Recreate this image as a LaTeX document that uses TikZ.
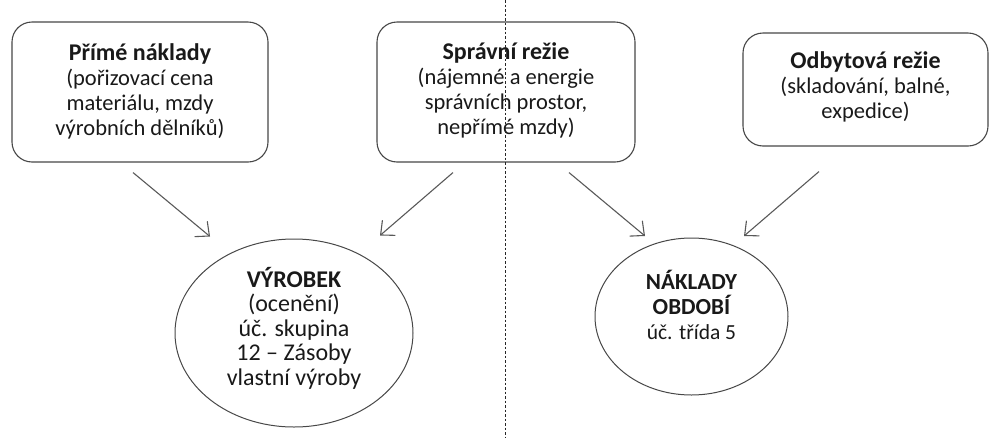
\documentclass[tikz,border=0pt]{standalone}
\usepackage{fontspec}
\setmainfont{Carlito}
\usetikzlibrary{shapes.geometric,arrows.meta}

\newcommand{\headline}[1]{{\fontsize{24}{26}\selectfont\bfseries #1}}

\tikzset{
  costbox/.style={draw=black!72, line width=1.1pt, rounded corners=20pt,
    inner sep=0pt},
  result/.style={draw=black!72, line width=1pt, ellipse, inner sep=0pt},
  label/.style={align=center, text=black!90, inner sep=0pt,
    font=\fontsize{22.5}{25}\selectfont},
  flow/.style={draw=black!65, line width=1.1pt,
    -{Straight Barb[length=11pt,width=20pt,line width=1.1pt]}},
  divider/.style={draw=black!85, line width=0.9pt, dash pattern=on 2.5pt off 2pt}
}

\begin{document}
\begin{tikzpicture}[x=1pt,y=-1pt]
  \useasboundingbox (0,0) rectangle (989,437);

  % cost groups
  \node[costbox, minimum width=256pt, minimum height=140pt] (b1) at (140,92) {};
  \node[costbox, minimum width=258pt, minimum height=140pt] (b2) at (506,92) {};
  \node[costbox, minimum width=245pt, minimum height=113pt] (b3) at (865.5,89.5) {};

  \node[label] (t1) at (140,91) {\headline{Přímé náklady}\\(pořizovací cena\\materiálu, mzdy\\výrobních dělníků)};
  \node[label] (t2) at (506,90) {\headline{Správní režie}\\(nájemné a energie\\správních prostor,\\nepřímé mzdy)};
  \node[label] (t3) at (865.5,87) {\headline{Odbytová režie}\\(skladování, balné,\\expedice)};

  % where the costs end up
  \node[result, minimum width=238pt, minimum height=188pt] (e1) at (294,333) {};
  \node[result, minimum width=193pt, minimum height=157pt] (e2) at (691.5,316.5) {};

  \node[label, font=\fontsize{24}{24.5}\selectfont] (t4) at (294,328)
    {\headline{VÝROBEK}\\(ocenění)\\úč. skupina\\12 – Zásoby\\vlastní výroby};
  \node[label, font=\fontsize{21.5}{25}\selectfont] (t5) at (691.5,305)
    {{\fontsize{23}{26}\selectfont\bfseries NÁKLADY}\\{\fontsize{23}{26}\selectfont\bfseries OBDOBÍ}\\úč. třída 5};

  % flows
  \draw[flow] ([shift={(-7,10)}]b1.south) -- ([shift={(-84,-2)}]e1.north);
  \draw[flow] ([shift={(-53,10)}]b2.south) -- ([shift={(86,-3)}]e1.north);
  \draw[flow] ([shift={(63,10)}]b2.south) -- ([shift={(-46.5,-1.5)}]e2.north);
  \draw[flow] ([shift={(-46.5,25)}]b3.south) -- ([shift={(52.5,-1.5)}]e2.north);

  % vertical separator
  \coordinate (top) at (505.5,0);
  \coordinate (bottom) at (505.5,437);
  \draw[divider] (top) -- (bottom);
\end{tikzpicture}
\end{document}
